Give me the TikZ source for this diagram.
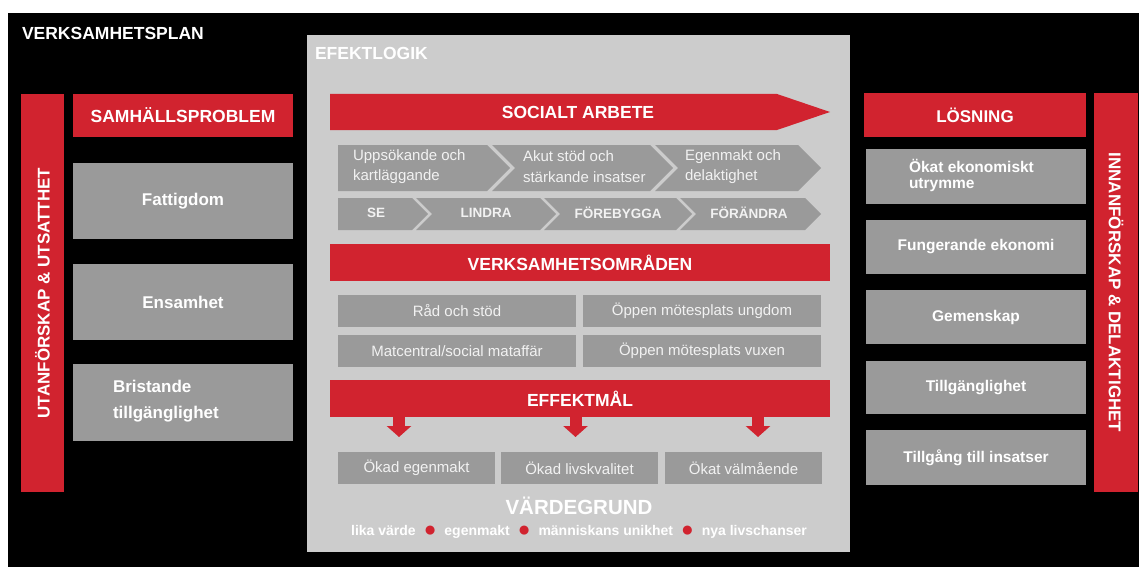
\documentclass[tikz,border=0pt]{standalone}
\usepackage{fontspec}
\setmainfont{Liberation Sans}
\usetikzlibrary{arrows.meta}
\definecolor{cred}{RGB}{209,35,47}
\definecolor{bgray}{RGB}{154,154,154}
\definecolor{pgray}{RGB}{204,204,204}
\definecolor{tw}{RGB}{242,242,242}
\newcommand{\hdfont}{\bfseries\fontsize{17.5}{20}\selectfont}
\newcommand{\lcfont}{\bfseries\fontsize{17}{20}\selectfont}
\newcommand{\rcfont}{\bfseries\fontsize{15.5}{16}\selectfont}
\newcommand{\rgfont}{\fontsize{15}{20.5}\selectfont}
\newcommand{\chfont}{\bfseries\fontsize{13.5}{16}\selectfont}
\newcommand{\redbullet}{\hspace{8pt}{\color{cred}\fontsize{21}{16}\selectfont\raisebox{-1.5pt}{●}}\hspace{8pt}}
\begin{document}
\begin{tikzpicture}[x=1pt,y=-1pt,
  every node/.style={inner sep=0pt,outer sep=0pt},
  redbox/.style={fill=cred,anchor=north west,text=white,font=\hdfont},
  graybox/.style={fill=bgray,anchor=north west,text=white},
  lbl/.style={text=white,font=\hdfont},
  sublbl/.style={text=tw,font=\rgfont},
  chev/.style={fill=bgray},
  fatarrow/.style={draw=cred,line width=12pt,-{Triangle[width=24pt,length=11pt]}},
]
\useasboundingbox (0,0) rectangle (1139,567);
\fill[white] (0,0) rectangle (1139,567);
\fill[black] (8,13) rectangle (1139,567);

\node[lbl,anchor=west] (title) at (22,33) {VERKSAMHETSPLAN};

% central panel
\node[fill=pgray,anchor=north west,minimum width=543pt,minimum height=517pt] (panel) at (307,35) {};
\node[lbl,anchor=west] (eftitle) at (315,53) {EFEKTLOGIK};

% left column
\node[redbox,minimum width=43pt,minimum height=398pt] (lbar) at (21,94) {};
\node[lbl,rotate=90,font=\lcfont] (lbart) at (lbar.center) {UTANFÖRSKAP \& UTSATTHET};
\node[redbox,minimum width=220pt,minimum height=43pt] (samh) at (73,94) {SAMHÄLLSPROBLEM};
\node[graybox,minimum width=220pt,minimum height=76pt,font=\lcfont] (fatt) at (73,163) {Fattigdom};
\node[graybox,minimum width=220pt,minimum height=76pt,font=\lcfont] (ens) at (73,264) {Ensamhet};
\node[graybox,minimum width=220pt,minimum height=77pt] (brist) at (73,364) {};
\node[lbl,anchor=west,align=left,font=\bfseries\fontsize{17}{26.5}\selectfont] (bristt) at (113,401) {Bristande\\tillgänglighet};

% right column
\node[redbox,minimum width=44pt,minimum height=399pt] (rbar) at (1094,93) {};
\node[lbl,rotate=-90,font=\lcfont] (rbart) at (rbar.center) {INNANFÖRSKAP \& DELAKTIGHET};
\node[redbox,minimum width=222pt,minimum height=44pt,font=\lcfont] (los) at (864,93) {LÖSNING};
\node[graybox,minimum width=220pt,minimum height=55pt] (r1) at (866,149) {};
\node[lbl,anchor=west,align=left,font=\rcfont] (r1t) at (909,175.5) {Ökat ekonomiskt\\utrymme};
\node[graybox,minimum width=220pt,minimum height=54pt,font=\rcfont] (r2) at (866,220) {Fungerande ekonomi};
\node[graybox,minimum width=220pt,minimum height=54pt,font=\rcfont] (r3) at (866,290) {Gemenskap};
\node[graybox,minimum width=220pt,minimum height=53pt,font=\rcfont] (r4) at (866,361) {Tillgänglighet};
\node[graybox,minimum width=220pt,minimum height=55pt,font=\rcfont] (r5) at (866,430) {Tillgång till insatser};

% social work arrow
\fill[cred] (330,94) -- (777,94) -- (830,112) -- (777,130) -- (330,130) -- cycle;
\node[lbl] (soc) at (578,112) {SOCIALT ARBETE};

% chevron row 1
\fill[chev] (338,145) -- (487,145) -- (510,168) -- (487,191) -- (338,191) -- cycle;
\fill[chev] (492,145) -- (650,145) -- (673,168) -- (650,191) -- (492,191) -- (515,168) -- cycle;
\fill[chev] (655,145) -- (798,145) -- (821,168) -- (798,191) -- (655,191) -- (678,168) -- cycle;
\node[sublbl,anchor=west,align=left] (c1) at (353,166.5) {Uppsökande och\\kartläggande};
\node[sublbl,anchor=west,align=left] (c2) at (523,166.5) {Akut stöd och\\stärkande insatser};
\node[sublbl,anchor=west,align=left] (c3) at (685,166.5) {Egenmakt och\\delaktighet};

% chevron row 2
\fill[chev] (338,198) -- (412,198) -- (428,214) -- (412,230) -- (338,230) -- cycle;
\fill[chev] (416,198) -- (540,198) -- (556,214) -- (540,230) -- (416,230) -- (432,214) -- cycle;
\fill[chev] (544,198) -- (676,198) -- (692,214) -- (676,230) -- (544,230) -- (560,214) -- cycle;
\fill[chev] (680,198) -- (805,198) -- (821,214) -- (805,230) -- (680,230) -- (696,214) -- cycle;
\node[text=tw,font=\chfont] (se) at (376,213) {SE};
\node[text=tw,font=\chfont] (lindra) at (486,213) {LINDRA};
\node[text=tw,font=\chfont] (foreb) at (618,213) {FÖREBYGGA};
\node[text=tw,font=\chfont] (forand) at (749,213) {FÖRÄNDRA};

% areas
\node[redbox,minimum width=500pt,minimum height=37pt] (vo) at (330,244) {VERKSAMHETSOMRÅDEN};
\node[graybox,sublbl,minimum width=238pt,minimum height=32pt] (a1) at (338,295) {Råd och stöd};
\node[graybox,sublbl,minimum width=238pt,minimum height=32pt] (a2) at (583,295) {Öppen mötesplats ungdom};
\node[graybox,sublbl,minimum width=238pt,minimum height=32pt] (a3) at (338,335) {Matcentral/social mataffär};
\node[graybox,sublbl,minimum width=238pt,minimum height=32pt] (a4) at (583,335) {Öppen mötesplats vuxen};

% effect goals
\node[redbox,minimum width=500pt,minimum height=37pt] (em) at (330,380) {EFFEKTMÅL};
\node[graybox,sublbl,minimum width=157pt,minimum height=32pt] (o1) at (338,452) {Ökad egenmakt};
\node[graybox,sublbl,minimum width=157pt,minimum height=32pt] (o2) at (501,452) {Ökad livskvalitet};
\node[graybox,sublbl,minimum width=157pt,minimum height=32pt] (o3) at (665,452) {Ökat välmående};
\coordinate (t1) at (399,437);
\coordinate (t2) at (575.5,437);
\coordinate (t3) at (758,437);
\draw[fatarrow] (em.south -| t1) -- (t1);
\draw[fatarrow] (em.south -| t2) -- (t2);
\draw[fatarrow] (em.south -| t3) -- (t3);

% values
\node[text=white,font=\bfseries\fontsize{20.5}{24}\selectfont] (vg) at (579,506) {VÄRDEGRUND};
\node[text=white,font=\bfseries\fontsize{14}{16}\selectfont] (vals) at (579,531.5)
  {lika värde\redbullet egenmakt\redbullet människans unikhet\redbullet nya livschanser};
\end{tikzpicture}
\end{document}
